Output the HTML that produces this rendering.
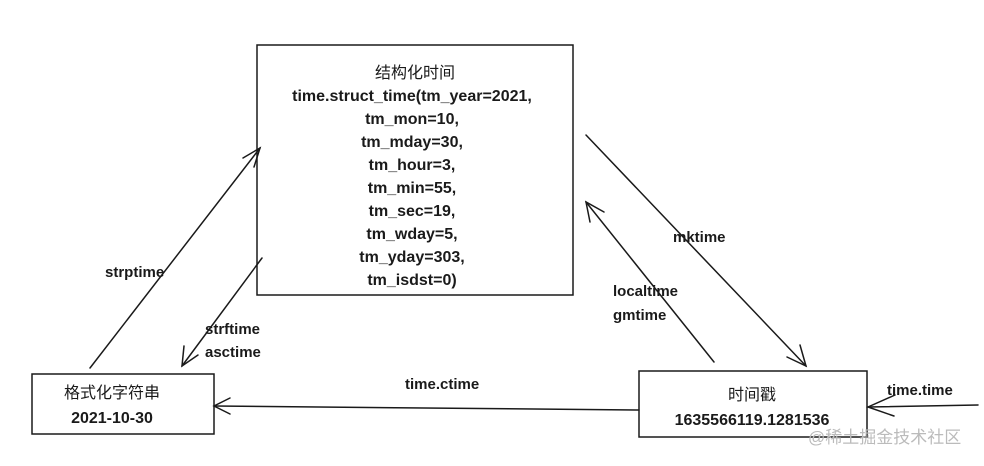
<!DOCTYPE html>
<html><head><meta charset="utf-8"><style>
body{margin:0;background:#fff;width:984px;height:461px;overflow:hidden}
svg text{font-family:"Liberation Sans","Noto Sans CJK SC",sans-serif;fill:#1a1a1a}
</style></head><body>
<svg width="984" height="461" viewBox="0 0 984 461" xmlns="http://www.w3.org/2000/svg">
<g fill="none" stroke="#1a1a1a" stroke-width="1.5" stroke-linecap="round">
<rect x="257" y="45" width="316" height="250"/>
<rect x="32" y="374" width="182" height="60"/>
<rect x="639" y="371" width="228" height="66"/>
<line x1="90" y1="368" x2="260" y2="148"/>
<path d="M243 158 L260 148 L254 167"/>
<line x1="262" y1="258" x2="182" y2="366"/>
<path d="M184 346 L182 366 L198 355"/>
<line x1="586" y1="135" x2="806" y2="366"/>
<path d="M787 357 L806 366 L800 345"/>
<line x1="714" y1="362" x2="586" y2="202"/>
<path d="M590 222 L586 202 L604 212"/>
<line x1="639" y1="410" x2="214" y2="406"/>
<path d="M230 398 L214 406 L230 414"/>
<line x1="978" y1="405" x2="868" y2="407"/>
<path d="M895 395 L868 407 L894 416"/>
</g>
<g font-size="16" text-anchor="middle" font-weight="bold">
<text x="415" y="78" font-weight="normal">结构化时间</text>
<text x="412" y="101">time.struct_time(tm_year=2021,</text>
<text x="412" y="124">tm_mon=10,</text>
<text x="412" y="147">tm_mday=30,</text>
<text x="412" y="170">tm_hour=3,</text>
<text x="412" y="193">tm_min=55,</text>
<text x="412" y="216">tm_sec=19,</text>
<text x="412" y="239">tm_wday=5,</text>
<text x="412" y="262">tm_yday=303,</text>
<text x="412" y="285">tm_isdst=0)</text>
<text x="112" y="398" font-weight="normal">格式化字符串</text>
<text x="112" y="423">2021-10-30</text>
<text x="752" y="400" font-weight="normal">时间戳</text>
<text x="752" y="425">1635566119.1281536</text>
</g>
<g font-size="15" font-weight="bold">
<text x="105" y="277">strptime</text>
<text x="205" y="334">strftime</text>
<text x="205" y="357">asctime</text>
<text x="673" y="242">mktime</text>
<text x="613" y="296">localtime</text>
<text x="613" y="320">gmtime</text>
<text x="405" y="389">time.ctime</text>
<text x="887" y="395">time.time</text>
</g>
<text x="808" y="443" font-size="17" style="fill:#bbb">@稀土掘金技术社区</text>
</svg>
</body></html>
